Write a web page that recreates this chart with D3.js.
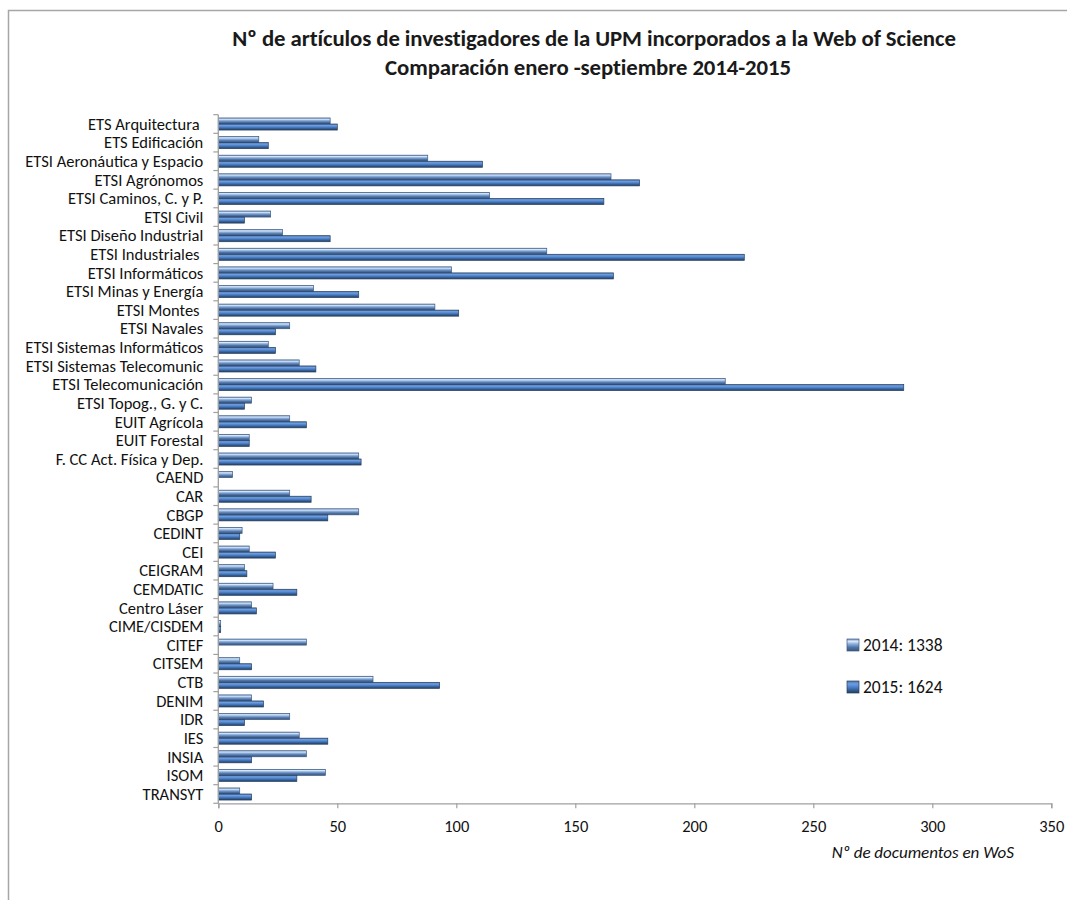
<!DOCTYPE html>
<html>
<head>
<meta charset="utf-8">
<script src="https://cdn.jsdelivr.net/npm/d3@7"></script>
<style>
  body { margin: 0; background: #fff; }
  svg { display: block; font-family: Calibri, Carlito, "Open Sans", sans-serif; }
  .lbl { white-space: pre; }
</style>
</head>
<body>
<div id="chart"></div>
<script>
// categories, top to bottom (trailing spaces as in the original sheet)
const centros = [
  "ETS Arquitectura ", "ETS Edificación", "ETSI Aeronáutica y Espacio", "ETSI Agrónomos",
  "ETSI Caminos, C. y P.", "ETSI Civil", "ETSI Diseño Industrial", "ETSI Industriales ",
  "ETSI Informáticos", "ETSI Minas y Energía", "ETSI Montes ", "ETSI Navales",
  "ETSI Sistemas Informáticos", "ETSI Sistemas Telecomunic", "ETSI Telecomunicación",
  "ETSI Topog., G. y C.", "EUIT Agrícola", "EUIT Forestal", "F. CC Act. Física y Dep.",
  "CAEND", "CAR", "CBGP", "CEDINT", "CEI", "CEIGRAM", "CEMDATIC", "Centro Láser",
  "CIME/CISDEM", "CITEF", "CITSEM", "CTB", "DENIM", "IDR", "IES", "INSIA", "ISOM", "TRANSYT"
];
const docs2014 = [47, 17, 88, 165, 114, 22, 27, 138, 98, 40, 91, 30, 21, 34, 213, 14, 30, 13, 59,
  6, 30, 59, 10, 13, 11, 23, 14, 1, 37, 9, 65, 14, 30, 34, 37, 45, 9];
const docs2015 = [50, 21, 111, 177, 162, 11, 47, 221, 166, 59, 101, 24, 24, 41, 288, 11, 37, 13, 60,
  0, 39, 46, 9, 24, 12, 33, 16, 1, 0, 14, 93, 19, 11, 46, 14, 33, 14];
const series = ["2014: 1338", "2015: 1624"];
const xTicks = [0, 50, 100, 150, 200, 250, 300, 350];

const W = 1067, H = 900;
const plotLeft = 218.3, plotRight = 1051.3, plotTop = 114.7, plotBottom = 803.3;

const svg = d3.select("#chart").append("svg").attr("width", W).attr("height", H);

// gradients for the "cylinder" bars
const defs = svg.append("defs");
function grad(id, stops) {
  const g = defs.append("linearGradient").attr("id", id)
    .attr("x1", 0).attr("y1", 0).attr("x2", 0).attr("y2", 1);
  stops.forEach(s => g.append("stop").attr("offset", s[0]).attr("stop-color", s[1]));
}
grad("g2014", [[0, "#6e93c4"], [0.2, "#dbe8f8"], [0.4, "#8fb3e0"], [0.7, "#4f74a6"], [1, "#3a557c"]]);
grad("g2015", [[0, "#4a75ad"], [0.25, "#6f9de0"], [0.5, "#4d82cb"], [0.75, "#345f95"], [1, "#263f60"]]);

// outer frame
svg.append("rect").attr("x", 8.5).attr("y", 10.5).attr("width", 1100).attr("height", 1000)
  .attr("fill", "none").attr("stroke", "#a6a6a6").attr("stroke-width", 1.5);

// title
const title = svg.append("text").attr("text-anchor", "middle")
  .attr("font-weight", "bold").attr("font-size", 22.8).attr("fill", "#1a1a1a")
  .attr("letter-spacing", -0.1);
title.append("tspan").attr("x", 594).attr("y", 46)
  .text("Nº de artículos de investigadores de la UPM incorporados a la Web of Science");
title.append("tspan").attr("x", 588).attr("y", 75)
  .text("Comparación enero -septiembre 2014-2015");

const x = d3.scaleLinear().domain([0, 350]).range([plotLeft, plotRight]);
const y = d3.scaleBand().domain(centros).range([plotTop, plotBottom])
  .paddingInner(0.35).paddingOuter(0.175);
const yi = d3.scaleBand().domain([0, 1]).range([0, y.bandwidth()]);

// bars
const g = svg.append("g");
[docs2014, docs2015].forEach((vals, s) => {
  g.selectAll(".b" + s).data(centros).enter().append("rect")
    .attr("x", x(0))
    .attr("y", d => y(d) + yi(s))
    .attr("width", (d, i) => Math.max(0, x(vals[i]) - x(0)))
    .attr("height", yi.bandwidth())
    .attr("fill", "url(#g" + (s ? "2015" : "2014") + ")")
    .attr("stroke", s ? "#263f60" : "#3d5a82")
    .attr("stroke-width", 0.7)
    .style("display", (d, i) => vals[i] > 0 ? null : "none");
});

// y axis
const yAxis = svg.append("g").attr("transform", `translate(${plotLeft},0)`);
yAxis.append("line").attr("y1", plotTop).attr("y2", plotBottom).attr("stroke", "#a0a0a0").attr("stroke-width", 1.3);
const step = y.step();
yAxis.selectAll(".tk").data(d3.range(centros.length + 1)).enter().append("line")
  .attr("x1", -5).attr("x2", 0)
  .attr("y1", i => plotTop + i * step).attr("y2", i => plotTop + i * step)
  .attr("stroke", "#a0a0a0").attr("stroke-width", 1.2);
yAxis.selectAll(".lbl").data(centros).enter().append("text")
  .attr("class", "lbl")
  .attr("x", -15)
  .attr("y", d => y(d) + y.bandwidth() / 2)
  .attr("dy", "0.35em")
  .attr("text-anchor", "end")
  .attr("font-size", 16.5)
  .attr("fill", "#111")
  .text(d => d);

// x axis
const xAxis = svg.append("g").attr("transform", `translate(0,${plotBottom})`)
  .call(d3.axisBottom(x).tickValues(xTicks).tickSize(5).tickPadding(12).tickFormat(d3.format("d")));
xAxis.select(".domain").attr("stroke", "#a0a0a0").attr("stroke-width", 1.3);
xAxis.selectAll(".tick line").attr("stroke", "#a0a0a0").attr("stroke-width", 1.2);
xAxis.selectAll(".tick text").attr("font-size", 16.5).attr("fill", "#111")
  .attr("font-family", "Calibri, Carlito, 'Open Sans', sans-serif");

svg.append("text").attr("x", 1014).attr("y", 858).attr("text-anchor", "end")
  .attr("font-style", "italic").attr("font-size", 17).attr("fill", "#111")
  .text("Nº de documentos en WoS");

// legend
const leg = svg.append("g").attr("transform", "translate(847,639)");
series.forEach((s, i) => {
  const r = leg.append("g").attr("transform", `translate(0,${i * 42})`);
  r.append("rect").attr("x", 0).attr("y", 0).attr("width", 12).attr("height", 12)
    .attr("fill", "url(#g" + (i ? "2015" : "2014") + ")")
    .attr("stroke", i ? "#263f60" : "#3d5a82").attr("stroke-width", 0.7);
  r.append("text").attr("x", 16).attr("y", 6).attr("dy", "0.36em")
    .attr("font-size", 17.5).attr("fill", "#111").text(s);
});
</script>
</body>
</html>
